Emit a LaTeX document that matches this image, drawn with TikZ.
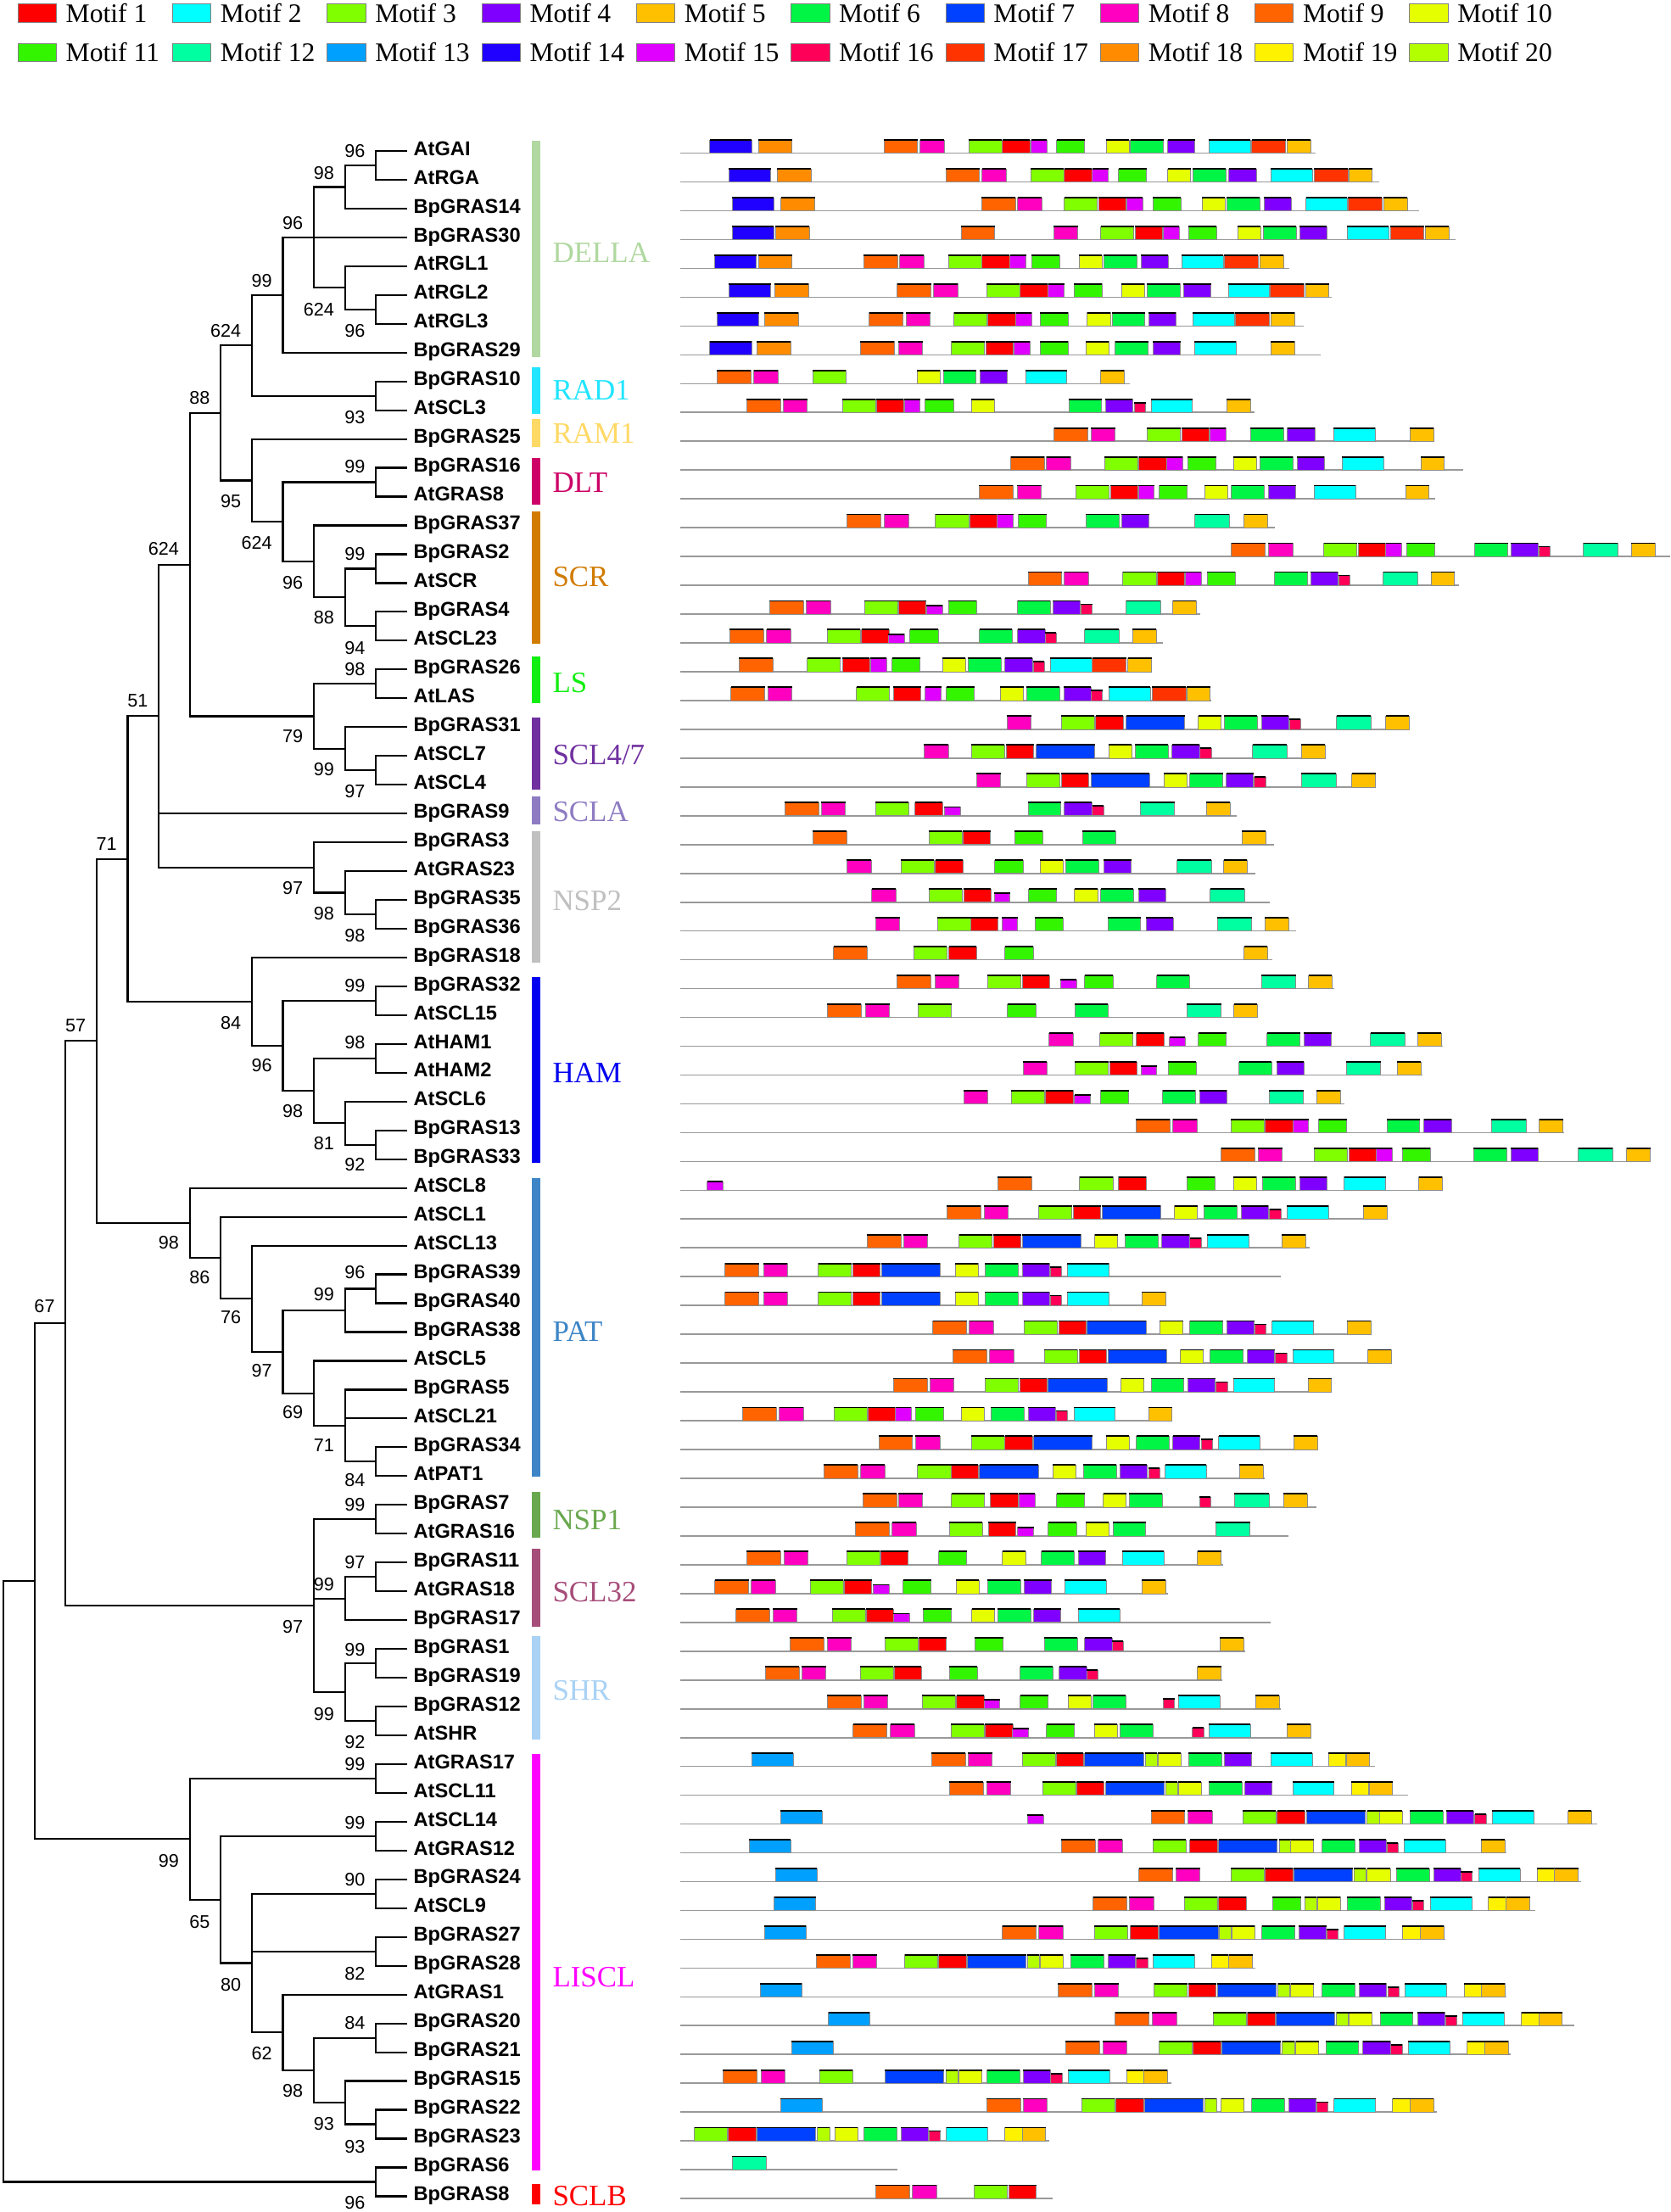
\documentclass[tikz,border=0pt]{standalone}
\usepackage{fontspec}
\setmainfont{Liberation Serif}
\newfontfamily\leaffont{Liberation Sans}
\usetikzlibrary{positioning}
\definecolor{m1}{HTML}{FF0000}
\definecolor{m2}{HTML}{00FFFF}
\definecolor{m3}{HTML}{80FF00}
\definecolor{m4}{HTML}{8000FF}
\definecolor{m5}{HTML}{FFC000}
\definecolor{m6}{HTML}{00F545}
\definecolor{m7}{HTML}{0040FF}
\definecolor{m8}{HTML}{FF00C0}
\definecolor{m9}{HTML}{FF6400}
\definecolor{m10}{HTML}{E6FF00}
\definecolor{m11}{HTML}{33F500}
\definecolor{m12}{HTML}{00FFA0}
\definecolor{m13}{HTML}{00A0FF}
\definecolor{m14}{HTML}{2000FF}
\definecolor{m15}{HTML}{E000FF}
\definecolor{m16}{HTML}{FF0058}
\definecolor{m17}{HTML}{FF3300}
\definecolor{m18}{HTML}{FF8C00}
\definecolor{m19}{HTML}{FFF200}
\definecolor{m20}{HTML}{B3FF00}
\definecolor{m21}{HTML}{E000FF}
\definecolor{cdella}{HTML}{B0D8A0}
\definecolor{crad}{HTML}{22E5FF}
\definecolor{cram}{HTML}{FFD966}
\definecolor{cdlt}{HTML}{CC0066}
\definecolor{cscr}{HTML}{D17B00}
\definecolor{cls}{HTML}{11EE11}
\definecolor{csclf}{HTML}{7030A0}
\definecolor{cscla}{HTML}{8E7CC3}
\definecolor{cnspt}{HTML}{C0C0C0}
\definecolor{cham}{HTML}{0000F0}
\definecolor{cpat}{HTML}{3D85C6}
\definecolor{cnspo}{HTML}{6AA84F}
\definecolor{csclt}{HTML}{A64D79}
\definecolor{cshr}{HTML}{A9D2F5}
\definecolor{cliscl}{HTML}{FF00FF}
\definecolor{csclb}{HTML}{FF0000}
\newcommand{\ry}[1]{(107+(#1-1)*20.42)}
\def\mwid{{19.5,29.4,23.5,19.4,16.7,23.3,41.6,17.2,24,16.3,19.9,24.4,29.4,29.8,11.3,8,24,24,12.5,8.5,11.3}}
\def\mhgt{{9.4,9.4,9.4,9.4,9.4,9.4,9.4,9.4,9.4,9.4,9.4,9.4,9.4,9.4,9.4,7,9.4,9.4,9.4,9.4,6.2}}

\begin{document}
\begin{tikzpicture}[x=1pt,y=-1pt,
    leaf/.style={anchor=west,inner xsep=4.5pt,inner ysep=0pt,text height=10.2pt,text depth=4pt,font=\leaffont\bfseries\fontsize{14.2}{14}\selectfont},
    tip/.style={inner sep=0pt,minimum size=0pt},
    branch/.style={line width=1.3pt},
    boot/.style={anchor=east,inner sep=0pt,font=\leaffont\fontsize{13}{13}\selectfont},
    clade/.style={anchor=west,inner sep=0pt,text height=13.9pt,text depth=0pt,font=\fontsize{21}{21}\selectfont},
    keybox/.style={anchor=north west,minimum width=27.2pt,minimum height=13pt,inner sep=0pt,draw=gray,line width=.6pt},
    keytxt/.style={inner sep=0pt,font=\fontsize{19}{19}\selectfont},
    seqline/.style={gray!80,line width=1pt}]
    \fill[white] (0,0) rectangle (1184,1568);
    \useasboundingbox (0,0) rectangle (1184,1568);

    \foreach \i in {1,...,20}{
        \pgfmathsetmacro{\lx}{12.5+mod(\i-1,10)*109.6}
        \pgfmathsetmacro{\ly}{2.4+int((\i-1)/10)*28}
        \node[keybox,fill=m\i] (key\i) at (\lx,\ly) {};
        \node[keytxt,right=6.2pt of key\i] (keytxt\i) {Motif \i};
    }

    \foreach \i/\nm in {1/AtGAI,2/AtRGA,3/BpGRAS14,4/BpGRAS30,5/AtRGL1,6/AtRGL2,7/AtRGL3,8/BpGRAS29,9/BpGRAS10,10/AtSCL3,11/BpGRAS25,12/BpGRAS16,13/AtGRAS8,14/BpGRAS37,15/BpGRAS2,16/AtSCR,17/BpGRAS4,18/AtSCL23,19/BpGRAS26,20/AtLAS,21/BpGRAS31,22/AtSCL7,23/AtSCL4,24/BpGRAS9,25/BpGRAS3,26/AtGRAS23,27/BpGRAS35,28/BpGRAS36,29/BpGRAS18,30/BpGRAS32,31/AtSCL15,32/AtHAM1,33/AtHAM2,34/AtSCL6,35/BpGRAS13,36/BpGRAS33,37/AtSCL8,38/AtSCL1,39/AtSCL13,40/BpGRAS39,41/BpGRAS40,42/BpGRAS38,43/AtSCL5,44/BpGRAS5,45/AtSCL21,46/BpGRAS34,47/AtPAT1,48/BpGRAS7,49/AtGRAS16,50/BpGRAS11,51/AtGRAS18,52/BpGRAS17,53/BpGRAS1,54/BpGRAS19,55/BpGRAS12,56/AtSHR,57/AtGRAS17,58/AtSCL11,59/AtSCL14,60/AtGRAS12,61/BpGRAS24,62/AtSCL9,63/BpGRAS27,64/BpGRAS28,65/AtGRAS1,66/BpGRAS20,67/BpGRAS21,68/BpGRAS15,69/BpGRAS22,70/BpGRAS23,71/BpGRAS6,72/BpGRAS8}{
        \node[leaf] (\nm) at (288.5,{\ry{\i}}) {\nm};
    }

    \foreach \nm/\x/\r in {a1/266.5/1.5,a2/244.5/2.25,a3/266.5/6.5,a4/244.5/5.75,a5/222.5/4,a6/200.5/6,b1/266.5/9.5,a7/178.5/7.75,
        c1/266.5/12.5,c2/266.5/15.5,c3/266.5/17.5,c4/244.5/16.5,c5/222.5/15.25,c6/200.5/13.875,c7/178.5/12.4375,a8/156.5/10.09375,
        d1/266.5/19.5,d2/266.5/22.5,d3/244.5/21.75,d4/222.5/20.625,a9/134.5/15.359,e1/266.5/27.5,e2/244.5/26.75,e3/222.5/25.875,a10/112.5/20.617,
        f1/266.5/30.5,f2/266.5/32.5,f3/266.5/35.5,f4/244.5/34.75,f5/222.5/33.625,f6/200.5/32.0625,f7/178.5/30.53,a11/90.5/25.574,
        g1/266.5/40.5,g2/244.5/41.25,g3/266.5/46.5,g4/244.5/45.25,g5/222.5/44.125,g6/200.5/42.6875,g7/178.5/40.844,g8/156.5/39.42,g9/134.5/38.21,a12/68.5/31.89,
        h1/266.5/48.5,h2/266.5/50.5,h3/244.5/51.25,h4/266.5/53.5,h5/266.5/55.5,h6/244.5/54.5,h7/222.5/51.5,a13/46.5/41.7,
        i1/266.5/57.5,i2/266.5/59.5,i3/266.5/61.5,i4/266.5/63.5,i5/266.5/66.5,i6/266.5/69.5,i7/244.5/68.75,i8/222.5/67.625,i9/200.5/66.3125,i10/178.5/63.906,i11/156.5/61.703,i12/134.5/59.6,
        a14/24.5/50.65,j1/266.5/71.5,root/2.5/61.08}{
        \node[tip] (\nm) at (\x,{\ry{\r}}) {};
    }

    \foreach \p/\c in {a1/AtGAI,a1/AtRGA,a2/a1,a2/BpGRAS14,a3/AtRGL2,a3/AtRGL3,a4/AtRGL1,a4/a3,a5/a2,a5/BpGRAS30,a5/a4,a6/a5,a6/BpGRAS29,
        b1/BpGRAS10,b1/AtSCL3,a7/a6,a7/b1,c1/BpGRAS16,c1/AtGRAS8,c2/BpGRAS2,c2/AtSCR,c3/BpGRAS4,c3/AtSCL23,c4/c2,c4/c3,c5/BpGRAS37,c5/c4,
        c6/c1,c6/c5,c7/BpGRAS25,c7/c6,a8/a7,a8/c7,d1/BpGRAS26,d1/AtLAS,d2/AtSCL7,d2/AtSCL4,d3/BpGRAS31,d3/d2,d4/d1,d4/d3,a9/a8,a9/d4,
        e1/BpGRAS35,e1/BpGRAS36,e2/AtGRAS23,e2/e1,e3/BpGRAS3,e3/e2,a10/a9,a10/BpGRAS9,a10/e3,
        f1/BpGRAS32,f1/AtSCL15,f2/AtHAM1,f2/AtHAM2,f3/BpGRAS13,f3/BpGRAS33,f4/AtSCL6,f4/f3,f5/f2,f5/f4,f6/f1,f6/f5,f7/BpGRAS18,f7/f6,a11/a10,a11/f7,
        g1/BpGRAS39,g1/BpGRAS40,g2/g1,g2/BpGRAS38,g3/BpGRAS34,g3/AtPAT1,g4/BpGRAS5,g4/AtSCL21,g4/g3,g5/AtSCL5,g5/g4,g6/g2,g6/g5,
        g7/AtSCL13,g7/g6,g8/AtSCL1,g8/g7,g9/AtSCL8,g9/g8,a12/a11,a12/g9,
        h1/BpGRAS7,h1/AtGRAS16,h2/BpGRAS11,h2/AtGRAS18,h3/h2,h3/BpGRAS17,h4/BpGRAS1,h4/BpGRAS19,h5/BpGRAS12,h5/AtSHR,h6/h4,h6/h5,
        h7/h1,h7/h3,h7/h6,a13/a12,a13/h7,
        i1/AtGRAS17,i1/AtSCL11,i2/AtSCL14,i2/AtGRAS12,i3/BpGRAS24,i3/AtSCL9,i4/BpGRAS27,i4/BpGRAS28,i5/BpGRAS20,i5/BpGRAS21,
        i6/BpGRAS22,i6/BpGRAS23,i7/BpGRAS15,i7/i6,i8/i5,i8/i7,i9/AtGRAS1,i9/i8,i10/i3,i10/i4,i10/i9,i11/i2,i11/i10,i12/i1,i12/i11,
        a14/a13,a14/i12,j1/BpGRAS6,j1/BpGRAS8,root/a14,root/j1}{
        \draw[branch] (\p.center) |- (\c.west);
    }

    \foreach \x/\y/\t [count=\k] in {259/107.3/96,237/122.9/98,215/158.2/96,193/198.8/99,237/219.5/624,259/234.4/96,171/234.4/624,149/282.3/88,
        259/295.7/93,259/331/99,171/355.5/95,193/384.8/624,259/392.9/99,215/413/96,237/437.7/88,259/459.3/94,259/474.2/98,127/389.3/624,
        105/496.6/51,215/522/79,237/545.4/99,259/561.2/97,83/598.4/71,215/629.5/97,237/647.5/98,259/663/98,259/698.6/99,171/724.9/84,
        61/726.8/57,259/738.7/98,193/755.4/96,215/787.8/98,237/810.3/81,259/825.4/92,127/880.6/98,149/905.6/86,259/901.7/96,237/917.5/99,
        39/925.8/67,171/933.8/76,193/971.4/97,215/1001/69,237/1024.4/71,259/1049.4/84,259/1066.6/99,259/1107.6/97,237/1123.3/99,
        215/1153.2/97,259/1169.2/99,237/1215.2/99,259/1235.1/92,259/1250.8/99,127/1319/99,259/1291.8/99,259/1332.4/90,149/1362.4/65,
        259/1399/82,171/1406.6/80,259/1434/84,193/1455.6/62,215/1482.2/98,237/1505.5/93,259/1521.5/93,259/1561.5/96}{
        \node[boot] (bs\k) at (\x,\y) {\t};
    }

    \foreach \nm/\t/\col/\ya/\yb/\ly in {della/DELLA/cdella/100/253/179,rad/RAD1/crad/260.4/293.3/276.3,ram/RAM1/cram/297.2/316.6/307,
        dlt/DLT/cdlt/324.4/357.6/342,scr/SCR/cscr/362.7/456.3/408.7,ls/LS/cls/465.5/498.4/484,sclf/{SCL4/7}/csclf/508.6/559.6/535,
        scla/SCLA/cscla/564.7/584.3/575.6,nspt/NSP2/cnspt/589.4/682.5/638.5,ham/HAM/cham/692.5/824.1/760.5,pat/PAT/cpat/835/1046.8/944,
        nspo/NSP1/cnspo/1057.7/1090.3/1077.6,sclt/SCL32/csclt/1097.6/1153.2/1128.6,shr/SHR/cshr/1159.6/1233.1/1198,
        liscl/LISCL/cliscl/1243.1/1538.8/1401.6,sclb/SCLB/csclb/1548.2/1562.8/1556.5}{
        \fill[\col] (377,\ya) rectangle (383,\yb);
        \node[clade,text=\col] (\nm) at (391.5,\ly) {\t};
    }

    \foreach \r/\e/\bx in {
        1/932.4/{503/14,537.4/18,626.4/9,652.2/8,686.5/3,710.5/1,730.8/15,748.9/11,784.2/10,801.3/6,827.6/4,857/2,887.2/17,912.1/5},
        2/977.6/{516.6/14,551/18,670.3/9,696/8,730.4/3,754.3/1,774.2/15,792.8/11,827.6/10,845.6/6,871/4,900.8/2,931.5/17,955.9/5},
        3/1006/{518.8/14,553.6/18,695.6/9,721.3/8,754.3/3,778.7/1,798.6/15,817.2/11,852/10,869.6/6,895.8/4,925.6/2,955.5/17,980.8/5},
        4/1031.9/{518.8/14,549.6/18,681.1/9,746.7/8,780.1/3,804.5/1,824.4/15,842.5/11,877.3/10,895.4/6,921.1/4,955/2,985.3/17,1010.2/5},
        5/913.9/{506.2/14,537.4/18,612/9,637.7/8,672.1/3,696/1,715.9/15,731.3/11,764.7/10,782.4/6,808.6/4,837.5/2,867.8/17,893.1/5},
        6/944.2/{516.6/14,549.1/18,635.9/9,661.7/8,699.2/3,723.1/1,743/15,761.1/11,795/10,813.1/6,838.9/4,870.5/2,900.3/17,925.2/5},
        7/923.8/{508/14,541.9/18,616/9,642.2/8,676.1/3,700.1/1,720/15,737.2/11,770.6/10,788.2/6,814/4,845.6/2,875.5/17,900.8/5},
        8/936/{503/14,536.5/18,609.7/9,636.8/8,674.3/3,698.7/1,718.6/15,737.2/11,769.7/10,790.5/6,817.2/4,846.5/2,900.8/5},
        9/800.9/{508/9,534.2/8,576.2/3,650/10,668.5/6,694.7/4,726.8/2,780.1/5},
        10/889/{529.2/9,555/8,597/3,621/1,640.9/15,655.8/11,688.3/10,757.5/6,783.3/4,804/16,815.8/2,869.6/5},
        11/1016.5/{747.1/9,773.3/8,813.1/3,837.5/1,857.4/15,886.3/6,912.5/4,945.1/2,999.3/5},
        12/1037.3/{716.4/9,741.7/8,782.8/3,807.2/1,826.7/15,842/11,874.1/10,893.1/6,919.3/4,951.4/2,1007/5},
        13/1017.4/{693.8/9,720.9/8,762.5/3,786.9/1,806.8/15,821.7/11,853.8/10,872.8/6,899/4,931.5/2,996.2/5},
        14/903.5/{600.2/9,626.9/8,663/3,687.4/1,706.9/15,721.8/11,769.7/6,795/4,847/12,881.8/5},
        15/1184/{872.8/9,899/8,938.3/3,962.7/1,982.1/15,997.1/11,1045.4/6,1070.7/4,1090.6/16,1122.3/12,1156.2/5},
        16/1034.1/{728.6/9,754.3/8,795.9/3,820.3/1,840.2/15,855.6/11,903.5/6,928.8/4,948.7/16,980.3/12,1014.2/5},
        17/851/{545.5/9,571.3/8,612.9/3,636.8/1,656.7/21,672.1/11,721.3/6,746.2/4,766.1/16,798.2/12,831.2/5},
        18/824.4/{517/9,543.3/8,586.2/3,610.6/1,629.6/21,645/11,694.2/6,721.3/4,740.8/16,768.8/12,802.7/5},
        19/816.3/{523.8/9,572.2/3,597/1,616.9/15,632.3/11,668/10,686.1/6,712.3/4,732.2/16,744.4/2,774.2/17,799.5/5},
        20/858.3/{518/9,544.2/8,607/3,633.2/1,655.8/15,670.7/11,709.1/10,727.7/6,753.9/4,773.3/16,786/2,816.7/17,841.1/5},
        21/999.3/{713.7/8,752.1/3,776.5/1,798.2/7,849.3/10,867.8/6,894/4,913.9/16,947.3/12,982.1/5},
        22/939.7/{654.9/8,688.3/3,713.2/1,734.4/7,786/10,804.5/6,830.7/4,850.6/16,887.7/12,922.5/5},
        23/975.4/{692/8,727.7/3,752.1/1,773.3/7,824.8/10,843.4/6,869.1/4,889/16,922.5/12,958.2/5},
        24/876.4/{556.4/9,582.1/8,620.5/3,648.6/1,669.4/21,728.6/6,754.3/4,774.2/16,808.1/12,855.1/5},
        25/903/{576.2/9,658.5/3,682.5/1,719.1/11,767.4/6,880.4/5},
        26/890/{600.2/8,638.6/3,663/1,705.1/11,737.2/10,755.2/6,782.4/4,834.3/12,867.3/5},
        27/900.3/{617.8/8,658.5/3,682.9/1,704.6/21,729/11,761.6/10,780.1/6,806.8/4,857.8/12},
        28/918.9/{620.5/8,664.4/3,687.9/1,710/15,733.5/11,785.1/6,812.2/4,862.8/12,896.7/5},
        29/901.7/{590.7/9,647.7/3,672.5/1,712.3/11,881.8/5},
        30/946/{635.5/9,662.6/8,700.1/3,724.5/1,751.6/21,768.8/11,819.9/6,894/12,927.5/5},
        31/891.7/{586.2/9,613.3/8,650.8/3,714.1/11,762/6,841.1/12,874.6/5},
        32/1022.8/{743.5/8,779.6/3,805.4/1,828.9/21,849.3/11,898.1/6,924.3/4,971.3/12,1004.7/5},
        33/1008.4/{725/8,762/3,786.4/1,808.6/21,828/11,878.2/6,904.9/4,954.1/12,990.3/5},
        34/953.2/{682.9/8,716.8/3,741.2/1,761.6/21,780.1/11,824/6,850.2/4,899.4/12,933.3/5},
        35/1108.7/{805/9,831.2/8,872.3/3,896.7/1,916.2/15,934.7/11,983/6,1009.3/4,1057.2/12,1091.1/5},
        36/1170.2/{865.5/9,891.7/8,931.5/3,955.9/1,975.4/15,993.9/11,1044.5/6,1070.7/4,1118.6/12,1153/5},
        37/1022.8/{501.2/21,707.3/9,765.2/3,792.8/1,841.1/11,874.1/10,894.9/6,921.1/4,952.8/2,1005.6/5},
        38/982.6/{671.2/9,697.4/8,736.3/3,760.7/1,781/7,832.5/10,853.3/6,879.5/4,899.9/16,912.1/2,966.3/5},
        39/928.4/{614.7/9,640.4/8,679.8/3,704.2/1,724.5/7,776/10,797.3/6,823.5/4,843.4/16,855.6/2,908.5/5},
        40/907.6/{513.9/9,541/8,579.9/3,604.3/1,624.6/7,677/10,698.3/6,724.5/4,744.4/16,756.6/2},
        41/826.2/{513.9/9,541/8,579.9/3,604.3/1,624.6/7,677/10,698.3/6,724.5/4,744.4/16,756.6/2,809.5/5},
        42/972.2/{661.2/9,687/8,725.9/3,750.3/1,770.6/7,822.1/10,843.4/6,869.6/4,889.5/16,901.7/2,955/5},
        43/986.2/{675.2/9,701.5/8,740.3/3,764.7/1,785.1/7,836.6/10,857.8/6,884.1/4,904/16,916.2/2,969.5/5},
        44/943.7/{633.2/9,659/8,698.3/3,722.7/1,743/7,794.6/10,815.8/6,842/4,861.9/16,874.1/2,927/5},
        45/830.3/{526.1/9,552.3/8,591.2/3,615.1/1,634.6/15,649/11,681.1/10,702.4/6,728.6/4,748.5/16,761.1/2,814/5},
        46/933.8/{622.8/9,649/8,688.3/3,712.3/1,732.6/7,784.2/10,805.4/6,831.2/4,851.5/16,863.7/2,917.1/5},
        47/896.3/{583.9/9,610.1/8,650.4/3,673.9/1,694.2/7,746.2/10,767.9/6,793.7/4,814/16,825.8/2,878.6/5},
        48/932.9/{611.5/9,636.8/8,674.3/3,701.9/1,722.2/15,748.9/11,781.9/10,800.4/6,850.2/16,875/12,909.8/5},
        49/913.4/{606.1/9,632.3/8,673/3,700.5/1,721.3/21,743/11,769.7/10,788.7/6,861.5/12},
        50/866.9/{529.2/9,555.5/8,600.2/3,624.2/1,665.3/11,710.5/10,738.1/6,764.3/4,795.5/2,848.8/5},
        51/828/{506.6/9,532.4/8,574.4/3,598.4/1,618.7/21,640/11,677.5/10,700.1/6,725.9/4,754.8/2,809.5/5},
        52/900.8/{521.6/9,547.8/8,589.8/3,613.8/1,633.2/21,654.4/11,688.8/10,707.3/6,732.6/4,764.3/2},
        53/882.3/{560/9,586.2/8,627.3/3,651.3/1,691.1/11,740.3/6,768.8/4,788.2/16,864.6/5},
        54/866.4/{542.3/9,568.1/8,609.7/3,633.7/1,673/11,723.1/6,750.7/4,770.2/16,848.8/5},
        55/907.6/{586.2/9,612/8,653.5/3,678/1,697.4/21,723.1/11,757/10,774.7/6,824.4/16,835.2/2,890/5},
        56/929.7/{604.7/9,631/8,673.9/3,698.3/1,717.7/21,741.7/11,775.6/10,793.7/6,845.2/16,857/2,912.1/5},
        57/974.5/{532.9/13,660.3/9,686.1/8,724.5/3,748.5/1,768.8/7,811.7/20,820.8/10,842.5/6,867.8/4,900.8/2,941.5/19,954.1/5},
        58/998/{673/9,699.2/8,739/3,762.9/1,783.7/7,826.2/20,835.2/10,856.9/6,882.3/4,916.2/2,957.7/19,970.4/5},
        59/1131.8/{553.2/13,728.1/21,815.8/9,842/8,880.9/3,905.3/1,926.1/7,969/20,977.6/10,999.3/6,1025.1/4,1045.4/16,1057.6/2,1111.4/5},
        60/1068/{531/13,752.1/9,778.3/8,817.2/3,843.4/1,863.7/7,906.7/20,914.8/10,937/6,963.2/4,983/16,995.3/2,1050/5},
        61/1120.5/{549.6/13,807.2/9,833.4/8,872.3/3,896.7/1,917.1/7,959.5/20,969/10,989.8/6,1016/4,1035.5/16,1048.1/2,1089.7/19,1101.9/5},
        62/1088.4/{548.7/13,774.7/9,800.4/8,839.3/3,863.7/1,902.1/11,924.7/20,933.8/10,955/6,981.2/4,1001.1/16,1013.8/2,1054.9/19,1067.6/5},
        63/1024.2/{541.9/13,710.5/9,736.3/8,775.6/3,801.3/1,821.7/7,864.2/20,873.2/10,894.5/6,920.7/4,940.6/16,952.8/2,993.9/19,1006.6/5},
        64/890/{578.5/9,604.3/8,641.3/3,665.3/1,685.6/7,728.1/20,737.2/10,758.9/6,785.5/4,805.4/16,817.2/2,858.7/19,871/5},
        65/1068/{538.7/13,749.8/9,775.6/8,818.1/3,842.5/1,862.8/7,905.8/20,914.8/10,937/6,963.2/4,983.5/16,995.7/2,1037.7/19,1050/5},
        66/1116/{587.1/13,790.5/9,816.7/8,859.7/3,884.1/1,904.4/7,947.3/20,955.9/10,978.1/6,1004.7/4,1024.6/16,1036.8/2,1078.4/19,1090.6/5},
        67/1070.7/{560.9/13,755.2/9,781.5/8,821.7/3,845.6/1,866/7,908.9/20,918.4/10,939.7/6,965.9/4,985.8/16,998/2,1040/19,1052.2/5},
        68/830.3/{512.5/9,539.2/8,580.8/3,627.3/7,670.3/20,679.8/10,699.6/6,725/4,744.8/16,757/2,798.6/19,810.8/5},
        69/1018.3/{553.2/13,699.2/9,725/8,766.5/3,791/1,811.3/7,853.8/20,865.5/10,887.2/6,913.4/4,933.3/16,945.5/2,987.1/19,999.3/5},
        70/744/{492.2/3,516.1/1,536.5/7,579.4/20,591.6/10,612.4/6,638.6/4,658.5/16,670.7/2,712.3/19,724.5/5},
        71/635.9/{518.8/12},
        72/746.2/{620.5/9,646.8/8,690.6/3,715/1}}{
        \pgfmathsetmacro{\yl}{\ry{\r}+1.6}
        \draw[seqline] (482,\yl) -- (\e,\yl);
        \foreach \x/\m in \bx{
            \pgfmathsetmacro{\w}{\mwid[\m-1]}
            \pgfmathsetmacro{\h}{\mhgt[\m-1]}
            \filldraw[fill=m\m,draw=black!45,line width=.4pt] (\x,\yl) rectangle ({\x+\w},{\yl-\h});
            \draw[line width=1.1pt] (\x,{\yl-\h}) -- ({\x+\w},{\yl-\h});
        }
    }
\end{tikzpicture}
\end{document}
